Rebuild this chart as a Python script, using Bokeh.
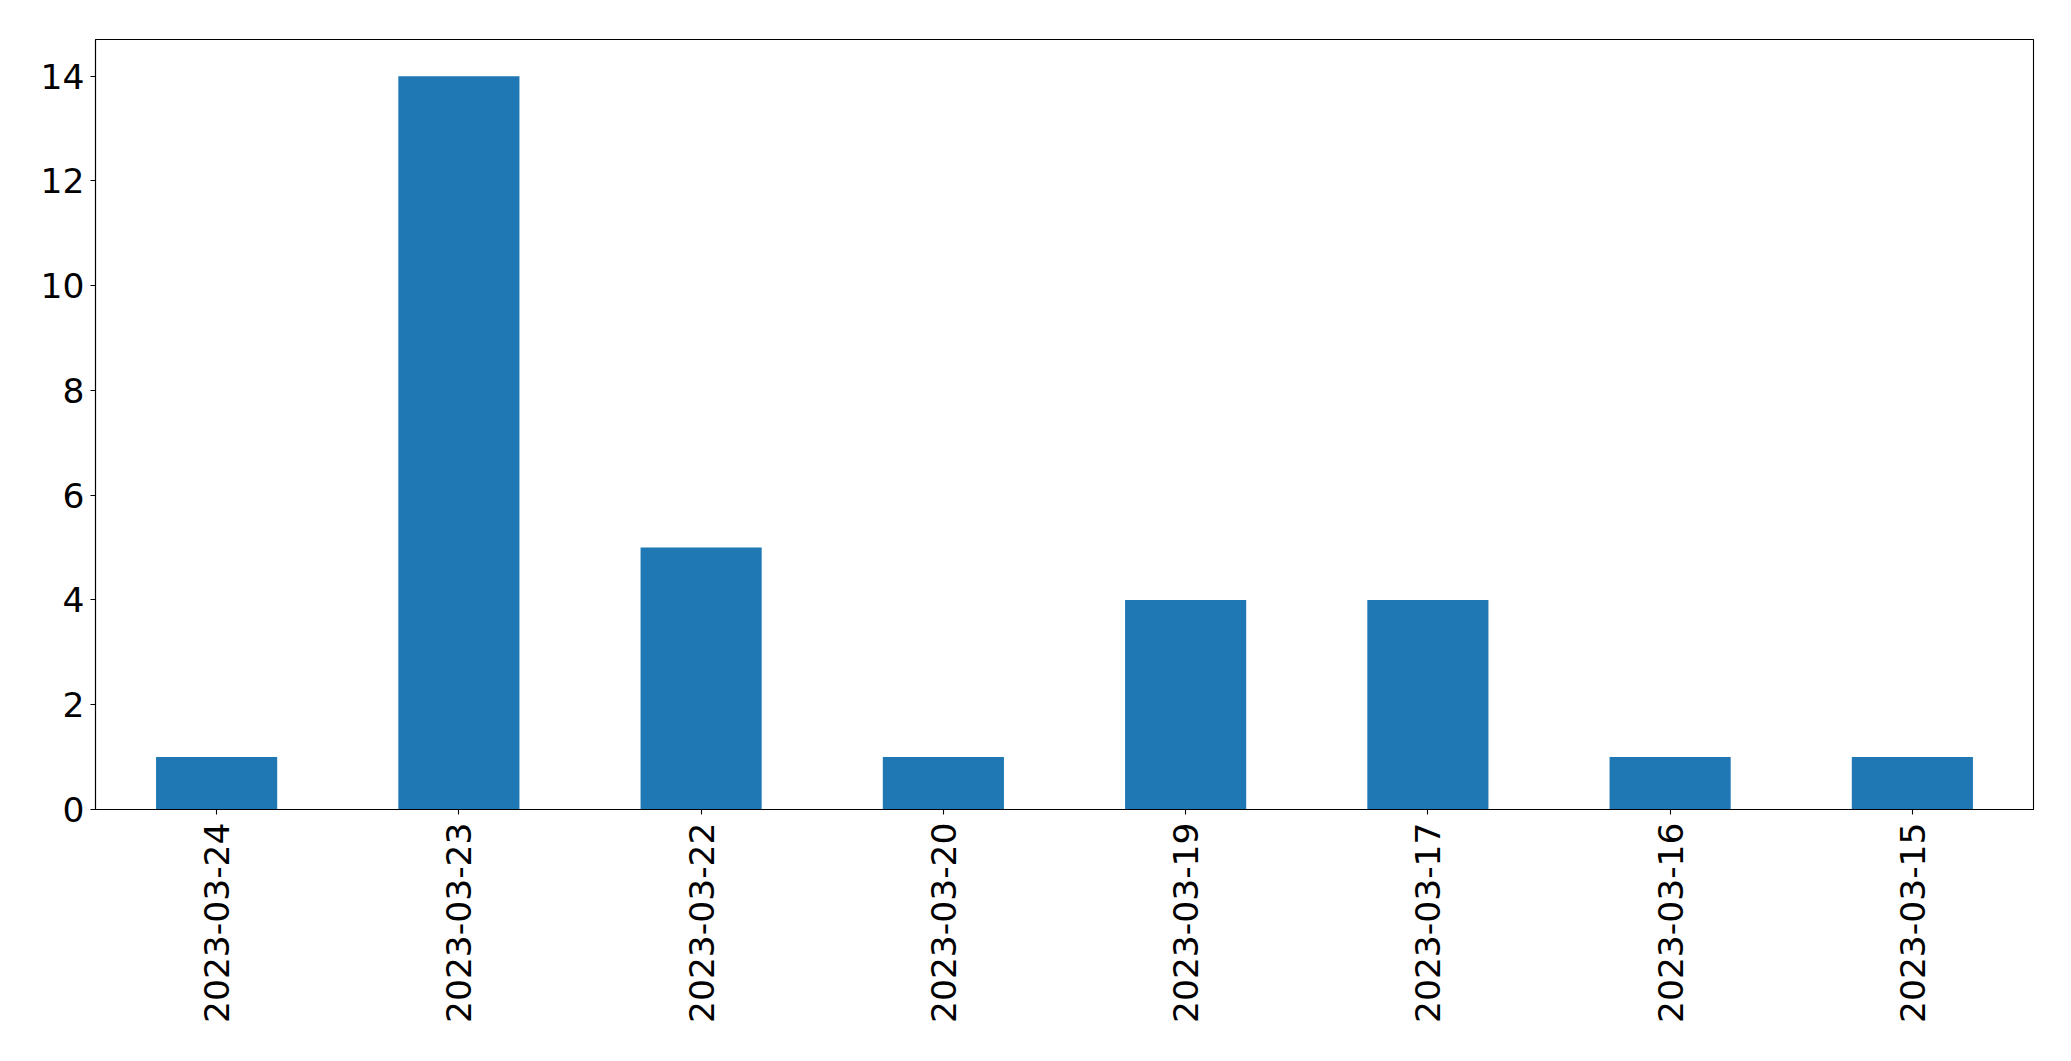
import math
from bokeh.plotting import figure
from bokeh.models import ColumnDataSource, FixedTicker
from bokeh.embed import file_html
from bokeh.resources import INLINE

dates = ["2023-03-24", "2023-03-23", "2023-03-22", "2023-03-20",
         "2023-03-19", "2023-03-17", "2023-03-16", "2023-03-15"]
counts = [1, 14, 5, 1, 4, 4, 1, 1]
y_ticks = [0, 2, 4, 6, 8, 10, 12, 14]

source = ColumnDataSource(data=dict(date=dates, count=counts))

p = figure(
    x_range=dates,
    y_range=(0, 14.7),
    width=2055,
    height=1045,
    min_border_left=95,
    min_border_right=22,
    min_border_top=39,
    min_border_bottom=236,
    output_backend="svg",
    toolbar_location=None,
)

p.vbar(x="date", top="count", width=0.5, source=source,
       fill_color="#1f77b4", line_color=None)

p.xgrid.grid_line_color = None
p.ygrid.grid_line_color = None
p.outline_line_color = "black"
p.outline_line_width = 1.1
p.background_fill_color = "white"
p.border_fill_color = "white"

p.yaxis.ticker = FixedTicker(ticks=y_ticks)
p.yaxis.minor_tick_line_color = None

for ax in (p.xaxis[0], p.yaxis[0]):
    ax.axis_line_color = "black"
    ax.axis_line_width = 1.1
    ax.major_tick_line_color = "black"
    ax.major_tick_line_width = 1.1
    ax.major_tick_in = 0
    ax.major_tick_out = 5
    ax.major_label_text_font = "DejaVu Sans"
    ax.major_label_text_font_size = "34.5px"
    ax.major_label_text_color = "black"

p.yaxis.major_label_standoff = 6
p.xaxis.major_label_standoff = 8
p.xaxis.major_label_orientation = math.pi / 2

open("out.html", "w").write(file_html(p, INLINE))
